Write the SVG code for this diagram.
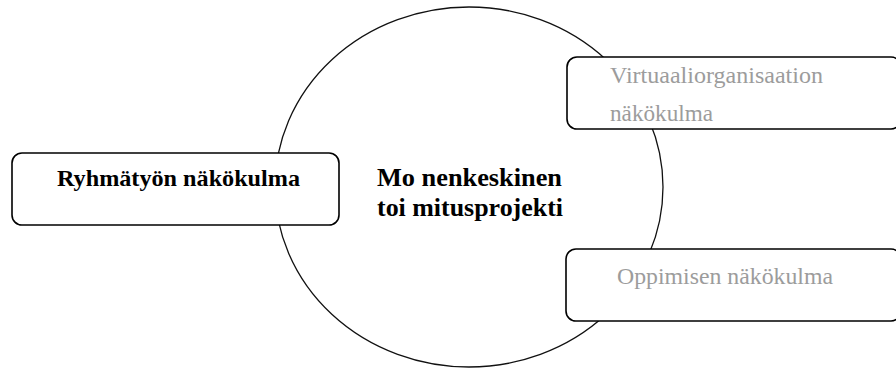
<svg xmlns="http://www.w3.org/2000/svg" width="896" height="369" viewBox="0 0 896 369">
  <style>
    .frame { fill: #ffffff; stroke: #000000; stroke-width: 1.6; }
    .ring { fill: none; stroke: #111111; stroke-width: 1.3; }
    .bold { font-family: "Liberation Serif", "Times New Roman", serif; font-weight: bold; fill: #000000; }
    .soft { font-family: "Liberation Serif", "Times New Roman", serif; fill: #9c9c9c; font-size: 23.5px; }
  </style>
  <rect width="896" height="369" fill="#ffffff"/>

  <!-- central project circle -->
  <g id="project">
    <ellipse class="ring" cx="469" cy="187" rx="194" ry="180"/>
    <text class="bold" font-size="26" x="377" y="186" textLength="185" lengthAdjust="spacingAndGlyphs">Mo nenkeskinen</text>
    <text class="bold" font-size="26" x="377" y="216" textLength="186" lengthAdjust="spacingAndGlyphs">toi mitusprojekti</text>
  </g>

  <!-- perspective boxes -->
  <g id="group-work">
    <rect class="frame" x="12" y="153" width="327" height="72" rx="10"/>
    <text class="bold" font-size="24" x="57" y="186" textLength="243" lengthAdjust="spacingAndGlyphs">Ryhmätyön näkökulma</text>
  </g>

  <g id="virtual-org">
    <rect class="frame" x="567" y="57" width="334" height="72" rx="10"/>
    <text class="soft" x="610" y="83" textLength="213" lengthAdjust="spacingAndGlyphs">Virtuaaliorganisaation</text>
    <text class="soft" x="610" y="121" textLength="103" lengthAdjust="spacingAndGlyphs">näkökulma</text>
  </g>

  <g id="learning">
    <rect class="frame" x="566" y="249" width="335" height="72" rx="10"/>
    <text class="soft" x="617" y="284" textLength="216" lengthAdjust="spacingAndGlyphs">Oppimisen näkökulma</text>
  </g>
</svg>
